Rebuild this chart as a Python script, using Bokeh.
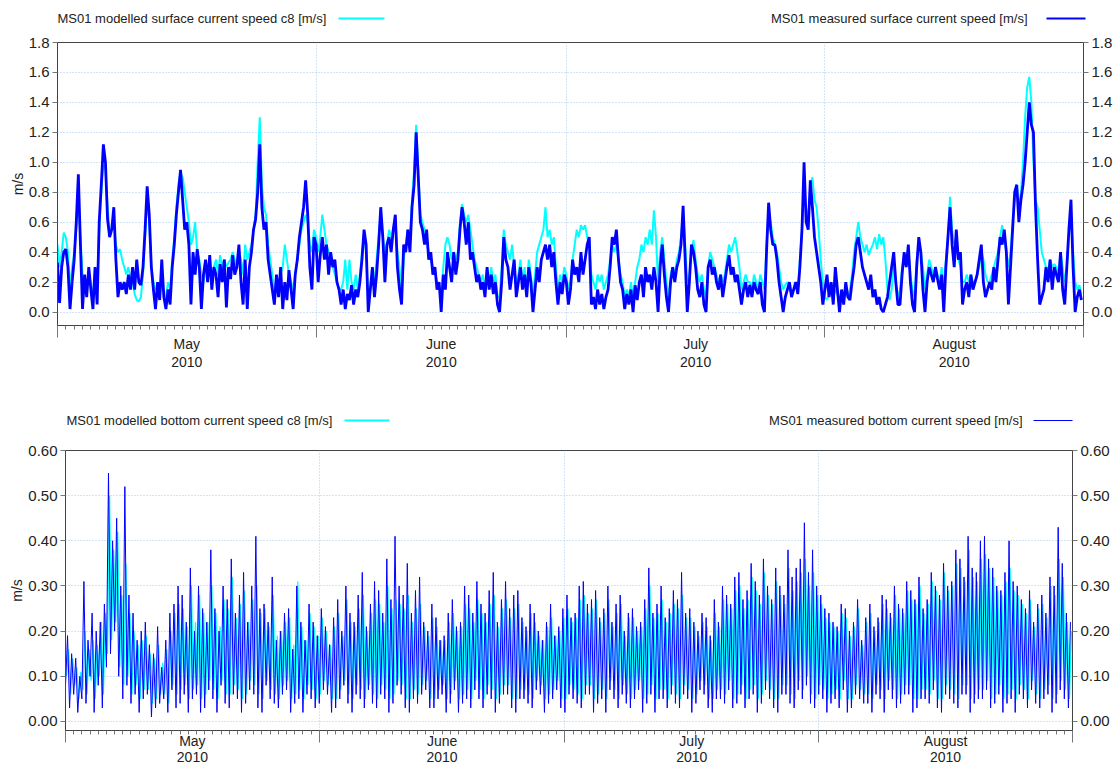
import pandas as pd
from bokeh.plotting import figure
from bokeh.models import (LinearAxis, FixedTicker, Range1d,
                          NumeralTickFormatter, CustomJSTickFormatter)
from bokeh.core.properties import value
from bokeh.embed import file_html
from bokeh.resources import INLINE

# ---------------- data ----------------
START = "2010-05-01"
START_BOTTOM_MODEL = "2010-05-01 03:00"
STEP = "6h"
month_starts = ["2010-05-01", "2010-06-01", "2010-07-01", "2010-08-01", "2010-09-01"]
month_names = ["May\n2010", "June\n2010", "July\n2010", "August\n2010"]

surf_ticks = [0.0, 0.2, 0.4, 0.6, 0.8, 1.0, 1.2, 1.4, 1.6, 1.8]
bot_ticks = [0.0, 0.1, 0.2, 0.3, 0.4, 0.5, 0.6]

surf_model_label = "MS01 modelled surface current speed c8 [m/s]"
surf_meas_label = "MS01 measured surface current speed [m/s]"
bot_model_label = "MS01 modelled bottom current speed c8 [m/s]"
bot_meas_label = "MS01 measured bottom current speed [m/s]"

# surface, modelled (6-hourly from 1 May 2010)
surf_model = [
    .45, .30, .40, .53, .50, .40, .15, .30, .40, .55, .75, .50, .25, .20, .15, .25,
    .20, .10, .25, .15, .55, .80, .98, .95, .70, .55, .55, .60, .45, .40, .42, .35,
    .30, .25, .30, .22, .20, .12, .08, .07, .10, .25, .50, .75, .60, .30, .20, .15,
    .15, .10, .20, .12, .10, .20, .15, .35, .50, .70, .85, .93, .90, .80, .70, .60,
    .45, .50, .60, .40, .35, .25, .20, .30, .30, .35, .25, .30, .35, .25, .38, .30,
    .35, .30, .33, .35, .40, .35, .30, .40, .35, .25, .45, .35, .40, .45, .55, .65,
    1.0, 1.30, .85, .70, .65, .45, .35, .25, .15, .20, .15, .25, .30, .45, .35, .25,
    .20, .15, .25, .35, .45, .55, .60, .65, .60, .45, .40, .55,
    # June
    .50, .40, .50, .65, .55, .45, .40, .38, .30, .25, .20, .15, .15, .20, .35, .15,
    .35, .20, .15, .25, .15, .25, .40, .50, .40, .10, .15, .25, .20, .35, .50, .65,
    .50, .40, .45, .55, .50, .55, .60, .40, .30, .10, .35, .45, .55, .50, .75, .95,
    1.25, .95, .65, .60, .55, .50, .40, .35, .30, .28, .20, .18, .10, .30, .45, .50,
    .45, .35, .40, .35, .40, .60, .72, .65, .60, .65, .55, .45, .35, .30, .25, .20,
    .25, .15, .30, .20, .30, .20, .25, .10, .10, .30, .55, .45, .40, .35, .45, .30,
    .20, .25, .35, .20, .30, .15, .35, .25, .10, .25, .40, .45, .50, .55, .70, .50,
    .55, .45, .50, .30, .15, .25, .20, .30,
    # July
    .25, .15, .20, .35, .45, .55, .50, .58, .55, .58, .50, .45, .25, .20, .15, .25,
    .20, .25, .15, .20, .25, .35, .45, .40, .45, .35, .25, .20, .10, .15, .10, .20,
    .10, .20, .30, .35, .45, .40, .50, .45, .55, .45, .68, .50, .20, .40, .50, .35,
    .20, .10, .25, .30, .25, .35, .40, .50, .65, .45, .20, .25, .40, .48, .35, .25,
    .20, .25, .15, .10, .30, .40, .35, .30, .25, .20, .25, .20, .25, .35, .45, .40,
    .45, .50, .40, .30, .15, .20, .25, .20, .20, .15, .25, .20, .15, .25, .20, .15,
    .45, .65, .60, .50, .45, .40, .30, .20, .15, .18, .20, .15, .12, .15, .18, .15,
    .35, .55, .80, .70, .60, .85, .90, .75, .70, .55, .35, .20,
    # August
    .10, .08, .12, .15, .10, .15, .12, .08, .10, .12, .15, .10, .15, .25, .40, .50,
    .60, .50, .45, .40, .45, .38, .42, .45, .50, .42, .52, .45, .50, .35, .15, .08,
    .15, .30, .20, .10, .15, .30, .38, .30, .40, .25, .15, .10, .35, .45, .40, .30,
    .15, .25, .35, .30, .25, .30, .25, .20, .30, .15, .35, .50, .77, .55, .45, .50,
    .35, .30, .20, .20, .25, .20, .25, .20, .20, .25, .30, .40, .35, .25, .20, .20,
    .25, .30, .35, .40, .50, .58, .50, .40, .30, .40, .60, .75, .85, .70, .80, 1.0,
    1.30, 1.50, 1.57, 1.40, 1.0, .75, .70, .55, .40, .35, .30, .28, .35, .30, .32, .30,
    .25, .40, .30, .20, .30, .50, .65, .40, .20, .15, .18, .12,
]

# surface, measured (6-hourly from 1 May 2010)
surf_meas = [
    .33, .06, .30, .40, .42, .30, .02, .20, .35, .60, .92, .45, .02, .25, .10, .30,
    .15, .02, .30, .05, .60, .85, 1.12, 1.0, .62, .50, .55, .70, .35, .10, .20, .15,
    .20, .12, .25, .15, .30, .15, .35, .20, .18, .30, .55, .84, .65, .30, .15, .02,
    .20, .08, .35, .10, .02, .15, .05, .30, .45, .65, .80, .95, .75, .55, .60, .45,
    .05, .40, .25, .42, .30, .02, .25, .35, .20, .38, .15, .30, .25, .10, .32, .20,
    .35, .03, .30, .22, .38, .25, .30, .45, .20, .05, .35, .02, .30, .40, .55, .62,
    .80, 1.12, .70, .55, .60, .35, .25, .15, .05, .25, .10, .30, .02, .20, .08, .28,
    .15, .02, .25, .35, .50, .60, .70, .88, .65, .30, .15, .50,
    # June
    .45, .20, .38, .50, .35, .45, .25, .40, .30, .35, .20, .15, .05, .15, .02, .12,
    .08, .18, .05, .15, .10, .20, .35, .55, .45, .00, .15, .30, .10, .25, .45, .70,
    .50, .20, .45, .50, .40, .55, .65, .30, .15, .05, .45, .40, .55, .40, .70, .85,
    1.2, .90, .60, .55, .45, .55, .35, .40, .25, .30, .15, .20, .00, .25, .15, .40,
    .30, .20, .40, .25, .35, .55, .70, .60, .45, .60, .35, .40, .30, .20, .25, .15,
    .20, .10, .30, .15, .25, .12, .20, .05, .00, .20, .50, .35, .30, .15, .25, .35,
    .10, .20, .30, .15, .25, .10, .30, .20, .00, .15, .30, .20, .35, .40, .45, .35,
    .45, .30, .40, .20, .05, .20, .12, .25,
    # July
    .20, .05, .15, .35, .25, .30, .20, .40, .25, .35, .45, .50, .05, .10, .02, .15,
    .05, .12, .02, .10, .15, .30, .50, .45, .55, .35, .20, .15, .02, .12, .05, .15,
    .00, .18, .08, .20, .25, .10, .30, .20, .25, .15, .30, .20, .00, .30, .45, .25,
    .10, .00, .20, .30, .20, .30, .35, .45, .71, .35, .00, .20, .45, .40, .30, .15,
    .10, .20, .05, .00, .30, .35, .25, .30, .20, .15, .25, .10, .20, .30, .38, .25,
    .30, .20, .25, .15, .05, .15, .20, .10, .18, .10, .20, .15, .12, .20, .05, .00,
    .40, .73, .55, .45, .45, .35, .20, .10, .00, .10, .15, .20, .10, .15, .20, .12,
    .30, .55, 1.0, .60, .55, .88, .70, .50, .40, .30, .20, .05,
    # August
    .15, .25, .10, .20, .05, .30, .15, .00, .15, .05, .20, .10, .08, .20, .30, .45,
    .50, .40, .30, .25, .20, .15, .25, .10, .15, .05, .10, .02, .00, .05, .10, .20,
    .30, .40, .20, .05, .05, .25, .40, .30, .45, .20, .05, .00, .30, .50, .40, .15,
    .00, .20, .30, .25, .20, .30, .22, .15, .25, .00, .30, .50, .70, .45, .30, .55,
    .35, .40, .05, .15, .20, .10, .25, .15, .20, .25, .35, .45, .20, .10, .15, .20,
    .15, .30, .20, .35, .50, .45, .55, .40, .05, .30, .55, .80, .85, .60, .75, .85,
    1.0, 1.2, 1.4, 1.25, 1.2, .70, .35, .05, .10, .15, .30, .20, .35, .15, .30, .25,
    .20, .40, .15, .05, .30, .55, .75, .30, .00, .10, .15, .08,
]

# bottom, modelled (6-hourly from 1 May 2010 03:00)
bot_model = [
    .10, .16, .06, .14, .08, .12, .05, .11, .07, .20, .06, .16, .09, .18, .05, .17,
    .10, .22, .06, .24, .15, .50, .18, .38, .22, .42, .12, .28, .08, .35, .10, .24,
    .06, .20, .08, .17, .05, .18, .07, .19, .07, .15, .04, .14, .05, .17, .06, .13,
    .06, .16, .04, .20, .08, .24, .06, .26, .07, .25, .08, .21, .05, .30, .07, .22,
    .08, .28, .05, .24, .06, .22, .09, .30, .07, .24, .05, .21, .09, .27, .06, .25,
    .06, .32, .08, .23, .07, .26, .05, .29, .06, .22, .09, .27, .08, .30, .06, .24,
    .05, .25, .09, .21, .07, .28, .06, .19, .05, .20, .08, .22, .09, .23, .05, .17,
    .06, .31, .07, .21, .05, .18, .08, .24, .07, .21, .05, .19,
    # June
    .06, .23, .09, .20, .08, .17, .05, .21, .05, .24, .07, .19, .09, .27, .06, .22,
    .05, .21, .08, .25, .07, .28, .05, .20, .08, .24, .06, .27, .05, .26, .08, .22,
    .07, .30, .05, .25, .06, .27, .09, .26, .08, .25, .05, .28, .05, .22, .07, .25,
    .06, .26, .08, .21, .09, .19, .05, .23, .05, .21, .07, .18, .08, .18, .05, .22,
    .06, .24, .09, .20, .05, .21, .06, .26, .07, .25, .05, .22, .09, .27, .07, .24,
    .05, .22, .08, .26, .07, .28, .05, .21, .06, .25, .08, .27, .08, .23, .05, .25,
    .05, .26, .07, .22, .07, .20, .06, .24, .05, .22, .09, .19, .08, .18, .05, .21,
    .06, .23, .07, .19, .09, .20, .05, .23,
    # July
    .05, .25, .08, .22, .07, .23, .06, .27, .05, .28, .08, .24, .08, .25, .05, .27,
    .06, .22, .07, .24, .05, .27, .09, .21, .07, .24, .05, .26, .08, .19, .06, .23,
    .05, .23, .07, .20, .09, .21, .05, .25, .06, .30, .08, .23, .05, .24, .07, .27,
    .07, .22, .05, .24, .08, .26, .06, .25, .05, .28, .08, .23, .07, .23, .05, .21,
    .06, .19, .09, .22, .08, .21, .05, .18, .05, .24, .07, .21, .07, .27, .06, .26,
    .09, .25, .05, .29, .06, .30, .08, .25, .05, .27, .07, .32, .08, .29, .05, .26,
    .06, .33, .09, .28, .07, .26, .05, .31, .05, .28, .08, .26, .08, .34, .06, .29,
    .05, .31, .09, .33, .07, .36, .10, .30, .06, .33, .05, .28,
    # August
    .08, .26, .07, .23, .05, .22, .06, .21, .07, .20, .05, .24, .09, .23, .05, .19,
    .05, .21, .08, .25, .07, .17, .06, .22, .06, .24, .05, .20, .08, .22, .07, .26,
    .05, .25, .09, .23, .07, .28, .05, .25, .06, .24, .08, .29, .08, .27, .05, .26,
    .05, .30, .07, .24, .07, .26, .06, .31, .09, .29, .05, .27, .05, .33, .08, .29,
    .07, .30, .06, .35, .05, .34, .08, .31, .08, .38, .05, .32, .06, .31, .07, .36,
    .07, .37, .09, .34, .05, .32, .06, .29, .08, .28, .05, .31, .06, .34, .07, .29,
    .05, .28, .08, .26, .07, .24, .05, .27, .09, .21, .06, .25, .05, .26, .07, .23,
    .08, .30, .05, .28, .06, .36, .09, .32, .07, .22, .05, .20,
]

# bottom, measured (6-hourly from 1 May 2010)
bot_meas = [
    .08, .19, .03, .15, .06, .14, .02, .10, .05, .31, .04, .18, .10, .24, .02, .20,
    .08, .22, .03, .26, .12, .55, .15, .40, .20, .45, .10, .30, .05, .52, .08, .28,
    .04, .24, .06, .18, .02, .20, .05, .22, .06, .17, .01, .15, .03, .21, .04, .12,
    .05, .18, .02, .24, .07, .26, .03, .30, .04, .28, .06, .22, .02, .34, .05, .20,
    .06, .30, .02, .25, .03, .22, .07, .38, .05, .25, .02, .20, .08, .30, .04, .27,
    .03, .36, .06, .24, .05, .28, .02, .33, .04, .22, .07, .30, .06, .41, .03, .25,
    .02, .26, .08, .22, .05, .32, .04, .18, .03, .20, .06, .24, .07, .25, .02, .16,
    .04, .30, .05, .22, .02, .18, .06, .26, .05, .22, .03, .19,
    # June
    .04, .25, .07, .21, .06, .17, .02, .23, .03, .27, .05, .20, .08, .30, .04, .24,
    .02, .22, .06, .28, .05, .33, .03, .21, .07, .26, .04, .31, .03, .29, .06, .24,
    .05, .36, .02, .27, .04, .41, .08, .30, .06, .28, .03, .35, .02, .24, .05, .29,
    .04, .32, .06, .22, .07, .20, .03, .26, .03, .23, .05, .18, .06, .19, .02, .24,
    .04, .27, .07, .21, .02, .22, .04, .30, .05, .28, .03, .24, .07, .31, .05, .26,
    .03, .24, .06, .29, .05, .33, .02, .22, .04, .27, .06, .31, .06, .25, .03, .28,
    .02, .29, .05, .23, .05, .21, .04, .26, .03, .24, .07, .20, .06, .18, .02, .22,
    .04, .26, .05, .19, .07, .21, .03, .25,
    # July
    .02, .28, .06, .23, .05, .24, .04, .30, .03, .31, .06, .26, .06, .27, .02, .29,
    .04, .23, .05, .25, .02, .30, .07, .22, .05, .26, .03, .28, .06, .20, .04, .24,
    .03, .25, .05, .21, .07, .22, .02, .27, .04, .34, .06, .24, .02, .26, .05, .30,
    .05, .23, .03, .25, .06, .29, .04, .27, .03, .33, .06, .24, .05, .25, .02, .22,
    .04, .20, .07, .24, .06, .23, .03, .19, .02, .27, .05, .22, .05, .30, .04, .28,
    .07, .26, .03, .32, .04, .33, .06, .27, .03, .29, .05, .35, .06, .31, .02, .28,
    .04, .36, .07, .30, .05, .27, .03, .34, .02, .30, .06, .28, .06, .38, .04, .32,
    .03, .34, .07, .36, .05, .44, .08, .33, .04, .38, .03, .30,
    # August
    .06, .28, .05, .25, .02, .24, .04, .22, .05, .21, .03, .26, .07, .25, .02, .20,
    .03, .22, .06, .27, .05, .18, .04, .23, .04, .26, .02, .21, .06, .23, .05, .28,
    .02, .27, .07, .24, .05, .30, .03, .26, .04, .25, .06, .31, .06, .29, .02, .27,
    .03, .32, .05, .25, .05, .27, .04, .33, .07, .30, .03, .28, .02, .35, .06, .30,
    .05, .31, .04, .38, .03, .36, .06, .32, .06, .41, .02, .34, .04, .33, .05, .40,
    .05, .41, .07, .36, .03, .34, .04, .30, .06, .29, .02, .33, .04, .40, .05, .31,
    .02, .30, .06, .27, .05, .25, .03, .29, .07, .22, .04, .26, .03, .28, .05, .24,
    .06, .32, .02, .30, .04, .43, .07, .35, .05, .24, .03, .22,
]

# ---------------- style ----------------
FONT = "Liberation Sans"
CYAN = "#00ffff"
BLUE = "#0000ff"
AXC = "#444444"
TICKC = "#777777"
TXT = "#222222"
GRIDC = "#a9c9ef"
W = 1116

t0 = pd.Timestamp(START)
one_day = pd.Timedelta(days=1)


def to_days(ts):
    return list((pd.DatetimeIndex(ts) - t0) / one_day)


bounds = to_days(pd.to_datetime(month_starts))
daily = to_days(pd.date_range(month_starts[0], month_starts[-1], freq="D"))
mids = [(a + b) / 2 for a, b in zip(bounds[:-1], bounds[1:])]


def header(h, ty, items):
    """Legend strip: text followed by a line sample (pixel coordinates)."""
    f = figure(width=W, height=h, x_range=Range1d(0, W), y_range=Range1d(0, h),
               x_axis_type=None, y_axis_type=None, min_border=0,
               output_backend="svg", toolbar_location=None,
               outline_line_color=None, background_fill_color="white",
               border_fill_color="white")
    for text, tx, align, color, x0, x1, lw in items:
        f.text(x=[tx], y=[ty], text=[text], text_font=value(FONT),
               text_font_size=value("13px"), text_baseline="middle",
               text_align=align, text_color=TXT)
        f.line(x=[x0, x1], y=[ty, ty], line_color=color, line_width=lw)
    return f


def panel(model, meas, model_start, yticks, fmt, ylo, g):
    p = figure(width=W, height=g["h"],
               min_border_left=g["bl"], min_border_right=g["br"],
               min_border_top=g["bt"], min_border_bottom=g["bb"],
               x_range=Range1d(bounds[0], bounds[-1]),
               y_range=Range1d(ylo, yticks[-1]),
               output_backend="svg", toolbar_location=None,
               background_fill_color="white", border_fill_color="white")
    p.outline_line_color = AXC
    p.outline_line_width = 1

    tm = to_days(pd.date_range(model_start, periods=len(model), freq=STEP))
    tb = to_days(pd.date_range(START, periods=len(meas), freq=STEP))
    p.line(tm, model, line_color=CYAN, line_width=g["lw_model"])
    p.line(tb, meas, line_color=BLUE, line_width=g["lw_meas"])

    # grids
    p.xgrid.ticker = FixedTicker(ticks=bounds)
    p.ygrid.ticker = FixedTicker(ticks=yticks)
    for gr in (p.xgrid, p.ygrid):
        gr.grid_line_color = GRIDC
        gr.grid_line_dash = "1 2"
        gr.grid_line_width = 1

    # y axes (left + right)
    ly = p.yaxis[0]
    ry = LinearAxis()
    p.add_layout(ry, "right")
    for ax in (ly, ry):
        ax.ticker = FixedTicker(ticks=yticks)
        ax.formatter = NumeralTickFormatter(format=fmt)
        ax.major_tick_out = 5
        ax.major_tick_in = 0
        ax.minor_tick_line_color = None
        ax.axis_line_color = AXC
        ax.major_tick_line_color = TICKC
        ax.major_label_text_font = FONT
        ax.major_label_text_font_size = "15px"
        ax.major_label_text_color = TXT
        ax.major_label_standoff = 3
    ly.axis_label = "m/s"
    ly.axis_label_text_font = FONT
    ly.axis_label_text_font_size = "14px"
    ly.axis_label_text_font_style = "normal"
    ly.axis_label_text_color = TXT
    ly.axis_label_standoff = 0

    # x axis: ticks only (months major, days minor)
    xa = p.xaxis[0]
    xa.ticker = FixedTicker(ticks=bounds, minor_ticks=daily)
    xa.major_tick_out = 12
    xa.major_tick_in = 0
    xa.minor_tick_out = 4
    xa.minor_tick_in = 0
    xa.axis_line_color = AXC
    xa.major_tick_line_color = TICKC
    xa.minor_tick_line_color = TICKC
    xa.major_label_text_font_size = "0px"
    xa.major_label_standoff = 0
    xa.formatter = CustomJSTickFormatter(code="return ''")

    # x axis: month labels centred on each month
    la = LinearAxis(
        ticker=FixedTicker(ticks=mids, minor_ticks=[]),
        formatter=CustomJSTickFormatter(
            args=dict(mticks=mids, mnames=month_names),
            code="for (let i = 0; i < mticks.length; i++) {"
                 " if (Math.abs(mticks[i] - tick) < 1e-6) return mnames[i]; }"
                 " return '';"),
        axis_line_color=None, major_tick_line_color=None,
        minor_tick_line_color=None, major_tick_out=0, major_tick_in=0,
        major_label_standoff=g["lab_so"],
        major_label_text_font=FONT, major_label_text_font_size="14px",
        major_label_text_color=TXT,
        major_label_text_line_height=g["lab_lh"])
    p.add_layout(la, "below")
    return p


top_head = header(32, 14, [
    (surf_model_label, 57, "left", CYAN, 338, 384, 2.2),
    (surf_meas_label, 1027, "right", BLUE, 1046, 1085, 2.2),
])
top = panel(surf_model, surf_meas, START, surf_ticks, "0.0", -0.09,
            dict(h=341, bl=57, br=33, bt=10, bb=48,
                 lw_model=2, lw_meas=2.8, lab_so=-2, lab_lh=1.14))

bot_head = header(67, 20, [
    (bot_model_label, 66, "left", CYAN, 344, 389, 2.2),
    (bot_meas_label, 1022, "right", BLUE, 1033, 1072, 1.2),
])
bottom = panel(bot_model, bot_meas, START_BOTTOM_MODEL, bot_ticks, "0.00", -0.02,
               dict(h=327, bl=65, br=44, bt=10, bb=36,
                    lw_model=1.3, lw_meas=1, lab_so=-10, lab_lh=1.0))

# separate roots so that each frame keeps its own borders
open("out.html", "w").write(file_html([top_head, top, bot_head, bottom], INLINE))
